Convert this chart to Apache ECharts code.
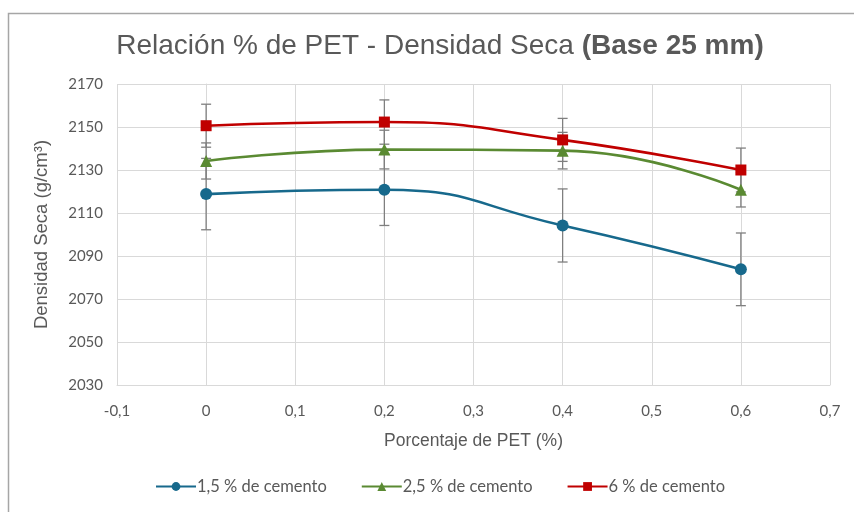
<!DOCTYPE html>
<html>
<head>
<meta charset="utf-8">
<script src="https://cdn.jsdelivr.net/npm/echarts@6/dist/echarts.min.js"></script>
<style>
  html, body { margin: 0; padding: 0; background: #fff; }
  #chart { width: 854px; height: 512px; }
</style>
</head>
<body>
<div id="chart"></div>
<script>
// PET percentage on x, dry density on y
const pet = [0, 0.2, 0.4, 0.6];
const seriesNames = ['1,5 % de cemento', '2,5 % de cemento', '6 % de cemento'];
const cem15 = [2118.8, 2120.8, 2104.2, 2083.8];
const cem25 = [2134.2, 2139.5, 2139.0, 2120.8];
const cem6 = [2150.6, 2152.3, 2144.0, 2130.0];
const err15 = [16.6, 16.6, 17.0, 16.9];
const err25 = [8.4, 9.0, 8.5, 8.0];
const err6 = [10.0, 10.3, 10.0, 10.2];
const colors = ['#17698c', '#5a8a32', '#c00000'];
const symbols = ['circle', 'triangle', 'rect'];

const txt = '#595959';
const font = 'Lato, "Open Sans", sans-serif';
const arial = '"Liberation Sans", Arial, sans-serif';

function pts(vals) {
  return pet.map((x, i) => [x, vals[i]]);
}

function errData(vals, errs) {
  return pet.map((x, i) => [x, vals[i], errs[i]]);
}

function renderErr(params, api) {
  const x = api.value(0);
  const y = api.value(1);
  const e = api.value(2);
  const top = api.coord([x, y + e]);
  const bot = api.coord([x, y - e]);
  const cap = 5;
  const style = { stroke: '#7f7f7f', lineWidth: 1.3 };
  return {
    type: 'group',
    children: [
      { type: 'line', shape: { x1: top[0], y1: top[1], x2: bot[0], y2: bot[1] }, style },
      { type: 'line', shape: { x1: top[0] - cap, y1: top[1], x2: top[0] + cap, y2: top[1] }, style },
      { type: 'line', shape: { x1: bot[0] - cap, y1: bot[1], x2: bot[0] + cap, y2: bot[1] }, style }
    ]
  };
}

const values = [cem15, cem25, cem6];
const errs = [err15, err25, err6];

const series = [];
values.forEach((v, k) => {
  series.push({
    type: 'custom',
    renderItem: renderErr,
    data: errData(v, errs[k]),
    z: 1,
    silent: true
  });
});
values.forEach((v, k) => {
  series.push({
    name: seriesNames[k],
    type: 'line',
    smooth: 0.5,
    data: pts(v),
    symbol: symbols[k],
    symbolSize: k === 2 ? 11 : 12,
    lineStyle: { color: colors[k], width: 2.6 },
    itemStyle: { color: colors[k] },
    z: 3
  });
});

const chart = echarts.init(document.getElementById('chart'));
chart.setOption({
  animation: false,
  color: colors,
  graphic: [{
    type: 'rect',
    shape: { x: 8.5, y: 13.5, width: 900, height: 600 },
    style: { fill: 'none', stroke: '#a6a6a6', lineWidth: 1.5 }
  }],
  title: {
    text: '{n|Relación % de PET - Densidad Seca }{b|(Base 25 mm)}',
    left: 435,
    top: 27,
    textAlign: 'center',
    textStyle: {
      fontWeight: 'normal',
      rich: {
        n: { fontFamily: arial, fontSize: 28, fontWeight: 'normal', color: txt },
        b: { fontFamily: arial, fontSize: 28, fontWeight: 'bold', color: txt }
      }
    }
  },
  grid: { left: 117, right: 24, top: 84, bottom: 127 },
  xAxis: {
    type: 'value',
    min: -0.1,
    max: 0.7,
    interval: 0.1,
    name: 'Porcentaje de PET (%)',
    nameLocation: 'middle',
    nameGap: 47,
    nameTextStyle: { fontFamily: arial, fontSize: 17.5, color: txt },
    axisLine: { lineStyle: { color: '#d9d9d9' } },
    axisTick: { show: false },
    axisLabel: {
      margin: 19,
      fontFamily: font,
      fontSize: 15,
      color: txt,
      formatter: v => (Math.round(v * 10) / 10).toString().replace('.', ',')
    },
    splitLine: { lineStyle: { color: '#d9d9d9' } }
  },
  yAxis: {
    type: 'value',
    min: 2030,
    max: 2170,
    interval: 20,
    name: 'Densidad Seca (g/cm³)',
    nameLocation: 'middle',
    nameGap: 66,
    nameTextStyle: { fontFamily: arial, fontSize: 18.5, color: txt },
    axisLine: { show: true, lineStyle: { color: '#d9d9d9' } },
    axisTick: { show: false },
    axisLabel: {
      margin: 14,
      fontFamily: font,
      fontSize: 15,
      color: txt,
      formatter: v => String(v)
    },
    splitLine: { lineStyle: { color: '#d9d9d9' } }
  },
  legend: {
    data: seriesNames,
    bottom: 12,
    left: 150,
    itemWidth: 40,
    itemHeight: 11,
    itemGap: 34,
    textStyle: { fontFamily: font, fontSize: 16.5, color: txt, padding: [0, 0, 0, -4] }
  },
  series
});
</script>
</body>
</html>
